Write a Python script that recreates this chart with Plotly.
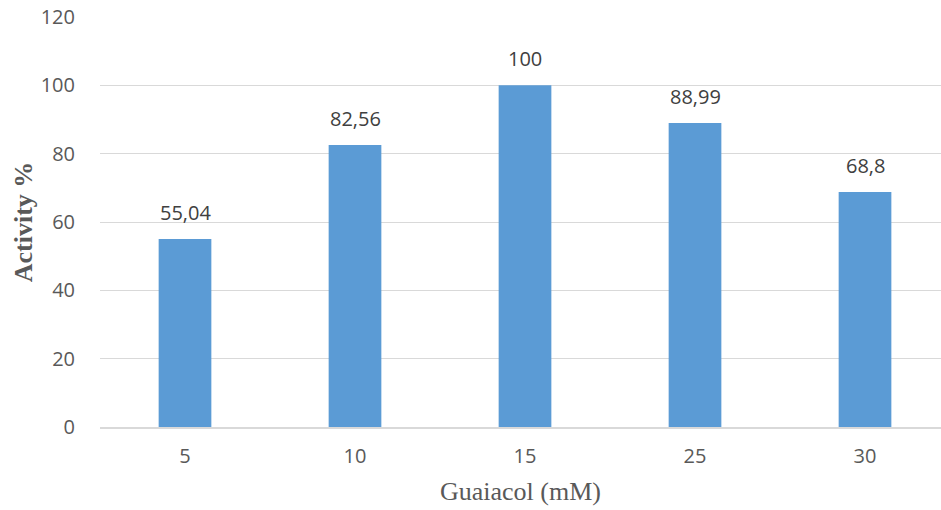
import plotly.graph_objects as go

# Guaiacol concentration (mM) and relative activity (%)
concentrations = ["5", "10", "15", "25", "30"]
activity = [55.04, 82.56, 100, 88.99, 68.8]
value_labels = ["55,04", "82,56", "100", "88,99", "68,8"]
y_ticks = [0, 20, 40, 60, 80, 100, 120]

tick_font = dict(family="Open Sans, Carlito, sans-serif", size=20, color="#595959")
title_font = dict(family="Liberation Serif, Times New Roman, serif", size=26, color="#595959")

fig = go.Figure(
    go.Bar(
        x=concentrations,
        y=activity,
        marker=dict(color="#5B9BD5", line=dict(width=0)),
        width=0.31,
        hoverinfo="x+y",
    )
)

# value labels above each bar (category axis positions are indices)
for i, (val, lab) in enumerate(zip(activity, value_labels)):
    fig.add_annotation(
        x=i,
        y=val,
        xref="x",
        yref="y",
        text=lab,
        showarrow=False,
        yanchor="bottom",
        yshift=11,
        font=dict(family="Open Sans, Carlito, sans-serif", size=20, color="#404040"),
    )

fig.update_layout(
    width=941,
    height=510,
    margin=dict(l=100, r=0, t=17, b=83),
    paper_bgcolor="white",
    plot_bgcolor="white",
    showlegend=False,
    xaxis=dict(
        type="category",
        range=[-0.5, 4.447],
        showgrid=False,
        showline=True,
        linecolor="#d9d9d9",
        linewidth=1.5,
        ticks="outside",
        ticklen=10,
        tickcolor="rgba(0,0,0,0)",
        tickfont=tick_font,
        title=dict(text="Guaiacol (mM)", font=title_font, standoff=14),
    ),
    yaxis=dict(
        range=[0, 120],
        tickvals=y_ticks,
        showgrid=True,
        gridcolor="#d9d9d9",
        gridwidth=1.2,
        zeroline=False,
        ticks="outside",
        ticklen=20,
        tickcolor="rgba(0,0,0,0)",
        tickfont=tick_font,
        title=dict(text="<b>Activity %</b>", font=title_font, standoff=0),
    ),
)

fig.write_html("out.html")
